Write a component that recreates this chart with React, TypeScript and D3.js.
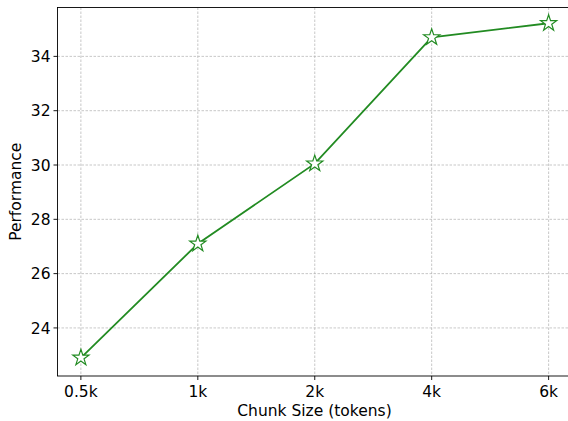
import React from "react";
import * as d3 from "d3";

const categories = ["0.5k", "1k", "2k", "4k", "6k"];
const performance = [22.9, 27.1, 30.05, 34.7, 35.22];
const yTicks = [24, 26, 28, 30, 32, 34];

const W = 568, H = 421;
const M = { left: 57.5, top: 7.5, right: 572, bottom: 376 };

function starPath(R: number, r: number) {
  const pts: [number, number][] = [];
  for (let k = 0; k < 10; k++) {
    const a = -Math.PI / 2 + (k * Math.PI) / 5;
    const rad = k % 2 === 0 ? R : r;
    pts.push([rad * Math.cos(a), rad * Math.sin(a)]);
  }
  return d3.line()(pts) + "Z";
}

export default function App() {
  const n = categories.length;
  const span = (M.right - M.left) / ((n - 1) * 1.1);
  const x = d3.scaleLinear().domain([0, n - 1]).range([M.left + span * (n - 1) * 0.05, M.right - span * (n - 1) * 0.05]);
  const y = d3.scaleLinear().domain([22.23, 35.8]).range([M.bottom, M.top]);
  const line = d3.line<number>().x((_, i) => x(i)).y((d) => y(d));
  const star = starPath(8.5, 3.3);
  const font = "'DejaVu Sans', sans-serif";
  const fs = 15.5;
  return (
    <svg width={W} height={H} style={{ position: "absolute", left: 0, top: 0 }}>
      <rect width={W} height={H} fill="#fff" />
      {categories.map((c, i) => (
        <line key={"gx" + c} x1={x(i)} x2={x(i)} y1={M.top} y2={M.bottom} stroke="#b0b0b0" strokeWidth={0.7} strokeDasharray="2.5,1.5" />
      ))}
      {yTicks.map((t) => (
        <line key={"gy" + t} x1={M.left} x2={M.right} y1={y(t)} y2={y(t)} stroke="#b0b0b0" strokeWidth={0.7} strokeDasharray="2.5,1.5" />
      ))}
      <path d={line(performance) || ""} fill="none" stroke="#228B22" strokeWidth={1.8} />
      {performance.map((v, i) => (
        <path key={"m" + i} d={star} transform={`translate(${x(i)},${y(v)})`} fill="#fff" stroke="#228B22" strokeWidth={1.2} strokeLinejoin="miter" />
      ))}
      <rect x={M.left} y={M.top} width={M.right - M.left} height={M.bottom - M.top} fill="none" stroke="#000" strokeWidth={0.9} />
      {yTicks.map((t) => (
        <g key={"ty" + t}>
          <line x1={M.left - 4} x2={M.left} y1={y(t)} y2={y(t)} stroke="#000" strokeWidth={0.9} />
          <text x={M.left - 7} y={y(t)} dy="0.36em" textAnchor="end" fontFamily={font} fontSize={fs} fill="#000">{t}</text>
        </g>
      ))}
      {categories.map((c, i) => (
        <g key={"tx" + c}>
          <line x1={x(i)} x2={x(i)} y1={M.bottom} y2={M.bottom + 4} stroke="#000" strokeWidth={0.9} />
          <text x={x(i)} y={397} textAnchor="middle" fontFamily={font} fontSize={fs} fill="#000">{c}</text>
        </g>
      ))}
      <text x={314.5} y={416} textAnchor="middle" fontFamily={font} fontSize={fs} fill="#000">Chunk Size (tokens)</text>
      <text transform={`translate(21,${(M.top + M.bottom) / 2}) rotate(-90)`} textAnchor="middle" fontFamily={font} fontSize={fs} fill="#000">Performance</text>
    </svg>
  );
}
